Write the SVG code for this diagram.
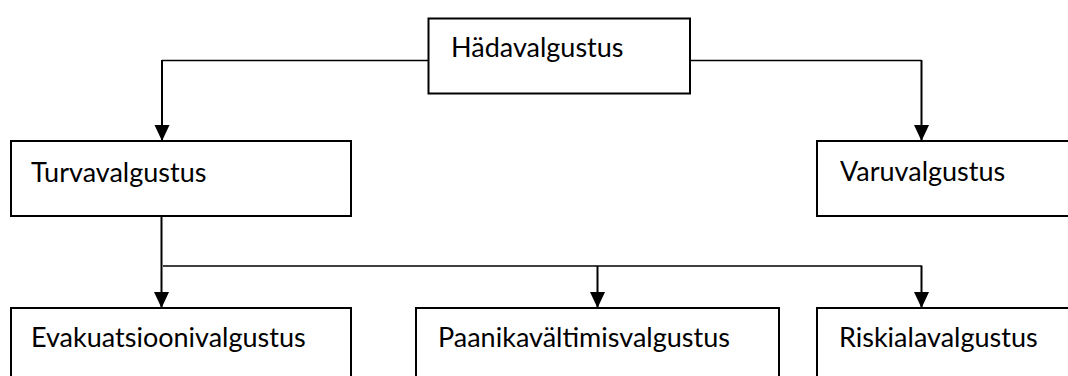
<svg xmlns="http://www.w3.org/2000/svg" width="1068" height="376" viewBox="0 0 1068 376">
<style>
.box{fill:#fff;stroke:#000;stroke-width:2}
.lbl{font-family:Lato,"Open Sans","Liberation Sans",sans-serif;font-size:27px;fill:#000}
.con{fill:none;stroke:#000;stroke-width:2}
.thin{fill:none;stroke:#000;stroke-width:1.5}
</style>
<defs>
<marker id="arr" markerUnits="userSpaceOnUse" markerWidth="16" markerHeight="16" refX="16" refY="7.5" orient="auto">
<path d="M0,0 L16,7.5 L0,15 z" fill="#000"/>
</marker>
</defs>
<rect width="1068" height="376" fill="#fff"/>
<g id="connectors">
<path class="thin" d="M428.5,60.5 H162"/>
<path class="con" d="M162,60 V141" marker-end="url(#arr)"/>
<path class="thin" d="M690,60.5 H921.5"/>
<path class="con" d="M921.5,60 V141" marker-end="url(#arr)"/>
<path class="con" d="M161.5,216 V308" marker-end="url(#arr)"/>
<path class="thin" d="M163,266 H921.5"/>
<path class="con" d="M597.5,266 V308" marker-end="url(#arr)"/>
<path class="con" d="M921.5,265.5 V308" marker-end="url(#arr)"/>
</g>
<g id="hadavalgustus">
<rect class="box" x="428.5" y="18.5" width="261.5" height="75"/>
<text class="lbl" x="451" y="57">Hädavalgustus</text>
</g>
<g id="turvavalgustus">
<rect class="box" x="11" y="141" width="340" height="75"/>
<text class="lbl" x="31" y="181.5">Turvavalgustus</text>
</g>
<g id="varuvalgustus">
<rect class="box" x="817" y="141" width="260" height="75"/>
<text class="lbl" x="840" y="180.5">Varuvalgustus</text>
</g>
<g id="evakuatsioonivalgustus">
<rect class="box" x="11" y="308" width="340" height="90"/>
<text class="lbl" x="31" y="347">Evakuatsioonivalgustus</text>
</g>
<g id="paanikavaltimisvalgustus">
<rect class="box" x="416" y="308" width="363" height="90"/>
<text class="lbl" x="438" y="347">Paanikavältimisvalgustus</text>
</g>
<g id="riskialavalgustus">
<rect class="box" x="817" y="308" width="260" height="90"/>
<text class="lbl" x="839" y="347">Riskialavalgustus</text>
</g>
</svg>
